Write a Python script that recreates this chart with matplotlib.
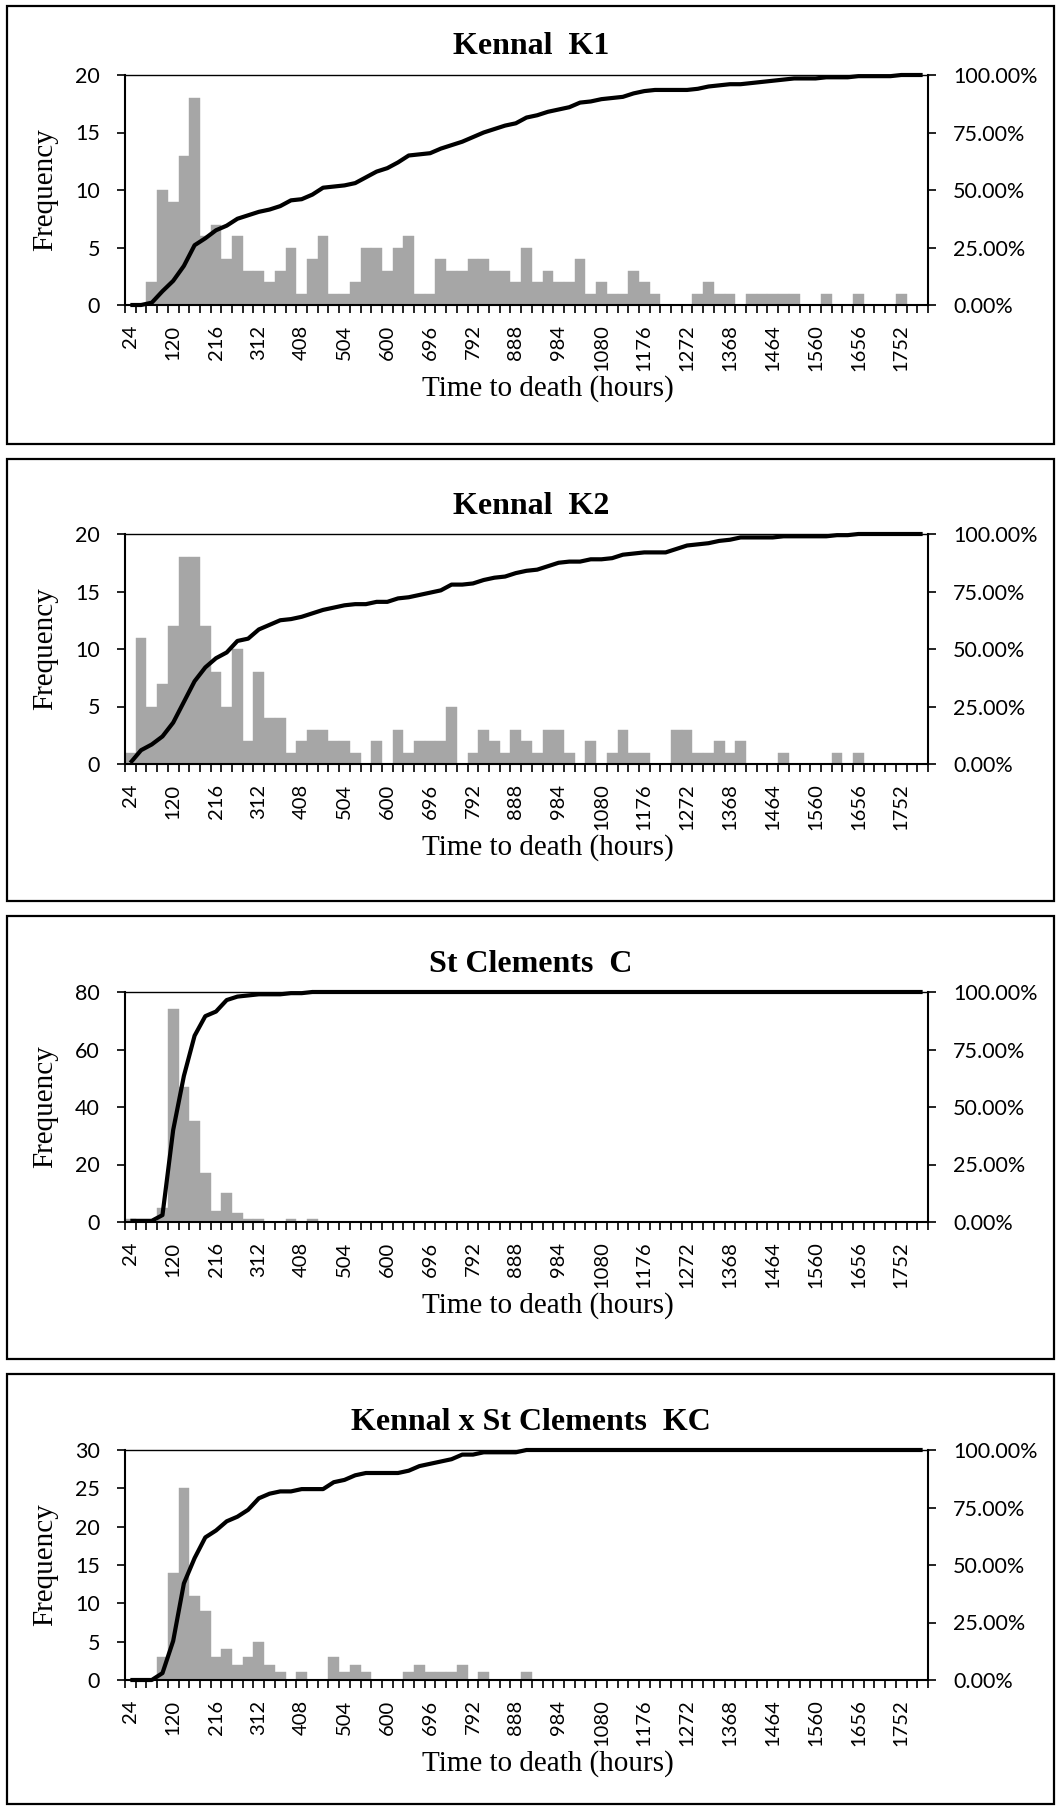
import numpy as np
import matplotlib
matplotlib.use("Agg")
import matplotlib.pyplot as plt
from matplotlib.patches import Rectangle
from matplotlib.ticker import PercentFormatter, FixedLocator

# hours-to-death bins, 24 h wide
bins = np.arange(24, 1801, 24)

k1_counts = [0, 0, 2, 10, 9, 13, 18, 6, 7, 4,
             6, 3, 3, 2, 3, 5, 1, 4, 6, 1,
             1, 2, 5, 5, 3, 5, 6, 1, 1, 4,
             3, 3, 4, 4, 3, 3, 2, 5, 2, 3,
             2, 2, 4, 1, 2, 1, 1, 3, 2, 1,
             0, 0, 0, 1, 2, 1, 1, 0, 1, 1,
             1, 1, 1, 0, 0, 1, 0, 0, 1, 0,
             0, 0, 1, 0, 0]
k2_counts = [1, 11, 5, 7, 12, 18, 18, 12, 8, 5,
             10, 2, 8, 4, 4, 1, 2, 3, 3, 2,
             2, 1, 0, 2, 0, 3, 1, 2, 2, 2,
             5, 0, 1, 3, 2, 1, 3, 2, 1, 3,
             3, 1, 0, 2, 0, 1, 3, 1, 1, 0,
             0, 3, 3, 1, 1, 2, 1, 2, 0, 0,
             0, 1, 0, 0, 0, 0, 1, 0, 1, 0,
             0, 0, 0, 0, 0]
c_counts = [1, 0, 0, 5, 74, 47, 35, 17, 4, 10,
            3, 1, 1, 0, 0, 1, 0, 1, 0, 0] + [0] * 55
kc_counts = [0, 0, 0, 3, 14, 25, 11, 9, 3, 4,
             2, 3, 5, 2, 1, 0, 1, 0, 0, 3,
             1, 2, 1, 0, 0, 0, 1, 2, 1, 1,
             1, 2, 0, 1, 0, 0, 0, 1, 0, 0] + [0] * 35

titles = ["Kennal  K1", "Kennal  K2", "St Clements  C", "Kennal x St Clements  KC"]
y_max = [20, 20, 80, 30]
y_step = [5, 5, 20, 5]

W, H = 1057, 1807
fig = plt.figure(figsize=(W / 100, H / 100), dpi=100)

serif = ["Liberation Serif", "DejaVu Serif"]
sans = ["Lato", "DejaVu Sans"]
bar_col = "#A6A6A6"
ytick_fs = 15.5
xtick_fs = 14.5


def fig_rect(l, t, r, b):
    return [l / W, 1 - b / H, (r - l) / W, (b - t) / H]


# pixel layout of each panel: frame top, frame bottom, plot top, plot bottom
frames = [(6, 444), (459, 901), (916, 1359), (1374, 1804)]
plots = [(75, 305), (534, 764), (992, 1222), (1450, 1680)]
PL, PR = 125, 928

all_counts = [k1_counts, k2_counts, c_counts, kc_counts]
x = np.arange(len(bins))

for counts, title, ym, ys, (ft, fb), (pt, pb) in zip(
        all_counts, titles, y_max, y_step, frames, plots):
    fig.add_artist(Rectangle((7 / W, 1 - fb / H), (1054 - 7) / W, (fb - ft) / H,
                             transform=fig.transFigure, fill=False,
                             edgecolor="black", linewidth=1.6))

    ax = fig.add_axes(fig_rect(PL, pt, PR, pb))
    ph = pb - pt
    counts = np.array(counts)
    ax.bar(x, counts, width=1.0, color=bar_col, edgecolor=bar_col,
           linewidth=0.3, zorder=2)
    ax.set_xlim(-0.5, len(bins) - 0.5)
    ax.set_ylim(0, ym)
    ax.set_yticks(np.arange(0, ym + 1, ys))

    ax.xaxis.set_major_locator(FixedLocator(np.arange(len(bins) + 1) - 0.5))
    ax.xaxis.set_major_formatter(plt.NullFormatter())
    ax.xaxis.set_minor_locator(FixedLocator(x[::4]))
    ax.set_xticklabels([str(b) for b in bins[::4]], minor=True,
                       rotation=90, family=sans, fontsize=xtick_fs)
    ax.tick_params(axis="x", which="major", direction="out", length=6,
                   width=1.2)
    ax.tick_params(axis="x", which="minor", length=0, pad=14)
    ax.tick_params(axis="y", direction="out", length=6, width=1.2, pad=12,
                   labelsize=ytick_fs)
    for lab in ax.get_yticklabels():
        lab.set_family(sans)

    for side in ("left", "bottom"):
        ax.spines[side].set_linewidth(1.5)
    ax.spines["top"].set_linewidth(1.0)
    ax.spines["right"].set_visible(False)

    ax.set_ylabel("Frequency", family=serif, fontsize=21, labelpad=12)
    ax.set_xlabel("Time to death (hours)", family=serif, fontsize=21,
                  va="center")
    ax.xaxis.set_label_coords((548 - PL) / (PR - PL), -84 / ph)

    # title is centred on the whole chart frame
    fig.text(531 / W, 1 - (pt - 28) / H, title, family=serif, fontsize=23,
             fontweight="bold", ha="center", va="center")

    # cumulative share on the secondary axis
    ax2 = ax.twinx()
    cum = np.cumsum(counts) / counts.sum()
    ax2.plot(x, cum, color="black", linewidth=3.0, zorder=3,
             solid_joinstyle="round", solid_capstyle="butt", clip_on=False)
    ax2.set_ylim(0, 1)
    ax2.set_yticks([0, 0.25, 0.5, 0.75, 1.0])
    ax2.yaxis.set_major_formatter(PercentFormatter(1.0, decimals=2))
    ax2.tick_params(axis="y", direction="out", length=6, width=1.2, pad=12,
                    labelsize=ytick_fs)
    for lab in ax2.get_yticklabels():
        lab.set_family(sans)
    ax2.spines["right"].set_linewidth(1.5)
    for side in ("left", "bottom", "top"):
        ax2.spines[side].set_visible(False)

fig.savefig("out.png", dpi=100)
